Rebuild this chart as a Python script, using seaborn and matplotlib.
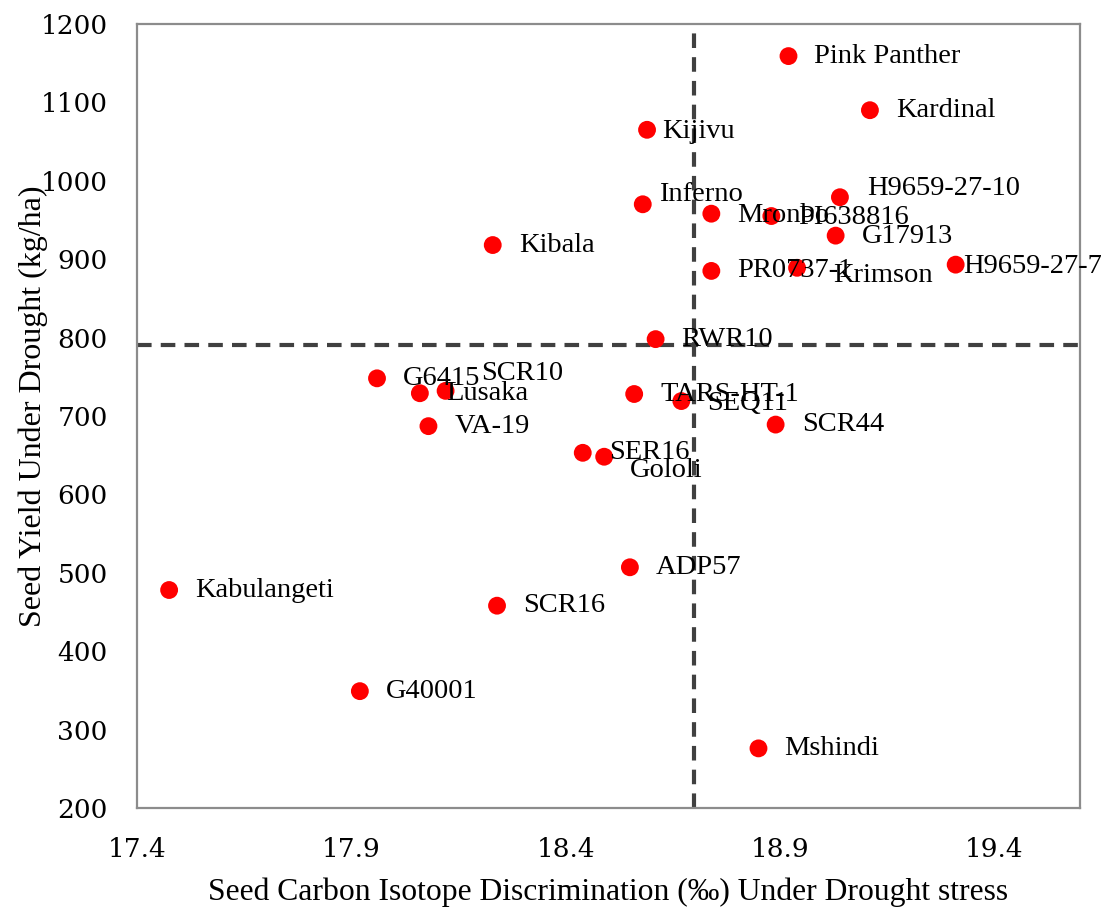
import matplotlib
matplotlib.use("Agg")
import matplotlib.pyplot as plt
import seaborn as sns
import pandas as pd

# ---- data ----
genotypes = ["Pink Panther", "Kardinal", "Kijivu", "H9659-27-10", "Inferno", "Mronbo",
             "PI638816", "G17913", "Kibala", "PR0737-1", "Krimson", "H9659-27-7",
             "RWR10", "G6415", "Lusaka", "SCR10", "TARS-HT-1", "SEQ11", "VA-19",
             "SCR44", "SER16", "Gololi", "ADP57", "Kabulangeti", "SCR16", "G40001",
             "Mshindi"]
carbon_isotope = [18.92, 19.11, 18.59, 19.04, 18.58, 18.74,
                  18.88, 19.03, 18.23, 18.74, 18.94, 19.31,
                  18.61, 17.96, 18.06, 18.12, 18.56, 18.67, 18.08,
                  18.89, 18.44, 18.49, 18.55, 17.475, 18.24, 17.92,
                  18.85]
seed_yield = [1159, 1090, 1065, 979, 970, 958,
              955, 930, 918, 885, 889, 893,
              798, 748, 729, 732, 728, 719, 687,
              689, 653, 648, 507, 478, 458, 349,
              276]
x_ref = 18.70
y_ref = 791
x_ticks = [17.4, 17.9, 18.4, 18.9, 19.4]
y_ticks = [200, 300, 400, 500, 600, 700, 800, 900, 1000, 1100, 1200]
x_label = "Seed Carbon Isotope Discrimination (‰) Under Drought stress"
y_label = "Seed Yield Under Drought (kg/ha)"

# label nudges in pixels (dx, dy) – layout only
label_offsets = {
    "Kijivu": (15, -2), "Inferno": (16, 10), "H9659-27-10": (27, 9),
    "Mronbo": (26, -2), "PI638816": (27, -1), "G17913": (26, -1),
    "Krimson": (36, -8), "H9659-27-7": (7, -2), "SCR10": (36, 17),
    "Gololi": (26, -14), "SEQ11": (26, -2),
}
default_offset = (26, 0)

df = pd.DataFrame({"genotype": genotypes, "cid": carbon_isotope, "yield": seed_yield})

sns.set_style("white")
plt.rcParams["font.family"] = ["Liberation Serif", "DejaVu Serif"]

fig, ax = plt.subplots(figsize=(11.02, 9.11), dpi=100)
fig.subplots_adjust(left=0.1243, right=0.980, top=0.9737, bottom=0.1131)

ax.axvline(x_ref, color="#404040", lw=3, ls=(0, (3.5, 2.2)), zorder=1)
ax.axhline(y_ref, color="#404040", lw=3, ls=(0, (3.5, 2.2)), zorder=1)

sns.scatterplot(data=df, x="cid", y="yield", ax=ax, color="#ff0000",
                s=165, edgecolor="none", zorder=3, legend=False)

for g, xv, yv in zip(genotypes, carbon_isotope, seed_yield):
    dx, dy = label_offsets.get(g, default_offset)
    ax.annotate(g, (xv, yv), xytext=(dx, dy), textcoords="offset pixels",
                ha="left", va="center", fontsize=20.5, color="black", zorder=4)

ax.set_xlim(17.4, 19.6)
ax.set_ylim(200, 1200)
ax.set_xticks(x_ticks)
ax.set_xticklabels([f"{t:.1f}" for t in x_ticks])
ax.set_yticks(y_ticks)
ax.tick_params(axis="both", length=0, labelsize=19, colors="black")
ax.tick_params(axis="x", pad=21)
ax.tick_params(axis="y", pad=21)
for lab in ax.get_xticklabels() + ax.get_yticklabels():
    lab.set_family("DejaVu Serif")

for sp in ax.spines.values():
    sp.set_visible(True)
    sp.set_color("#8c8c8c")
    sp.set_linewidth(1.6)

ax.set_xlabel(x_label, fontsize=22.8, va="center", color="black")
ax.set_ylabel(y_label, fontsize=23, va="center", color="black")
ax.xaxis.set_label_coords(0.5, -0.108)
ax.yaxis.set_label_coords(-0.110, 0.513)

fig.savefig("out.png", dpi=100)
